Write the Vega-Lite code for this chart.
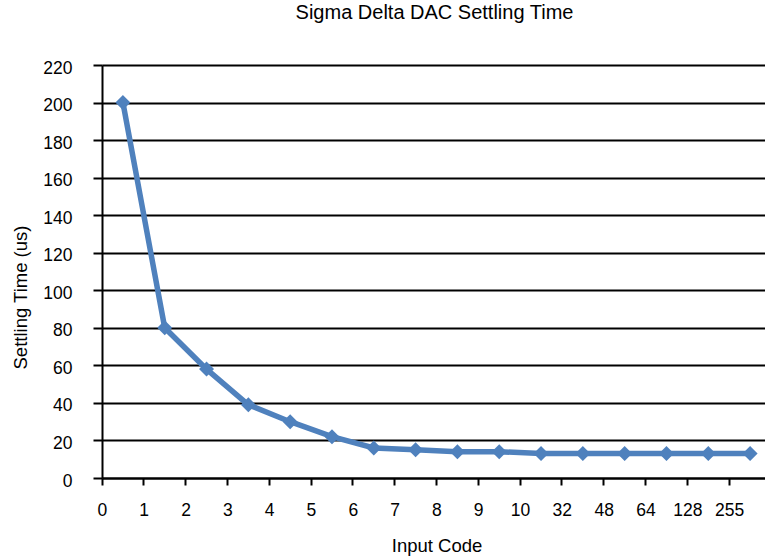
{
  "$schema": "https://vega.github.io/schema/vega-lite/v6.json",
  "width": 663,
  "height": 413,
  "autosize": {"type": "none"},
  "padding": {"left": 102, "top": 65, "right": 0, "bottom": 80},
  "background": "white",
  "config": {
    "view": {"stroke": null},
    "font": "Liberation Sans"
  },
  "title": {
    "text": "Sigma Delta DAC Settling Time",
    "font": "Liberation Sans",
    "fontSize": 20,
    "fontWeight": "normal",
    "color": "black",
    "offset": 36,
    "dx": 1
  },
  "data": {
    "values": [
      {"code": "0", "t": 200},
      {"code": "1", "t": 80},
      {"code": "2", "t": 58},
      {"code": "3", "t": 39},
      {"code": "4", "t": 30},
      {"code": "5", "t": 22},
      {"code": "6", "t": 16},
      {"code": "7", "t": 15},
      {"code": "8", "t": 14},
      {"code": "9", "t": 14},
      {"code": "10", "t": 13},
      {"code": "32", "t": 13},
      {"code": "48", "t": 13},
      {"code": "64", "t": 13},
      {"code": "128", "t": 13},
      {"code": "255", "t": 13}
    ]
  },
  "encoding": {
    "x": {
      "field": "code",
      "type": "ordinal",
      "sort": null,
      "bandPosition": 0.5,
      "scale": {"type": "band", "paddingInner": 0, "paddingOuter": 0, "range": [0, 669]},
      "axis": {
        "title": "Input Code",
        "bandPosition": 0,
        "labelAngle": 0,
        "labelFontSize": 17.5,
        "labelColor": "black",
        "labelOffset": -20.5,
        "labelPadding": 16,
        "tickSize": 7,
        "tickWidth": 2,
        "tickColor": "black",
        "domainColor": "black",
        "domainWidth": 2,
        "grid": false,
        "titleFontSize": 18.5,
        "titleFontWeight": "normal",
        "titleColor": "black",
        "titleY": 58
      }
    },
    "y": {
      "field": "t",
      "type": "quantitative",
      "scale": {"domain": [0, 220]},
      "axis": {
        "title": "Settling Time (us)",
        "values": [0, 20, 40, 60, 80, 100, 120, 140, 160, 180, 200, 220],
        "labelFontSize": 17.5,
        "labelColor": "black",
        "labelPadding": 21,
        "labelOffset": 3,
        "tickSize": 9,
        "tickWidth": 2,
        "tickColor": "black",
        "domainColor": "black",
        "domainWidth": 2,
        "grid": true,
        "gridColor": "black",
        "gridWidth": 2,
        "gridOpacity": 1,
        "titleFontSize": 18.5,
        "titleFontWeight": "normal",
        "titleColor": "black",
        "titleX": -72,
        "titleY": 232
      }
    }
  },
  "layer": [
    {"mark": {"type": "line", "color": "#4F81BD", "strokeWidth": 5.5}},
    {"mark": {"type": "point", "shape": "diamond", "filled": true, "color": "#4F81BD", "opacity": 1, "size": 225}}
  ]
}
